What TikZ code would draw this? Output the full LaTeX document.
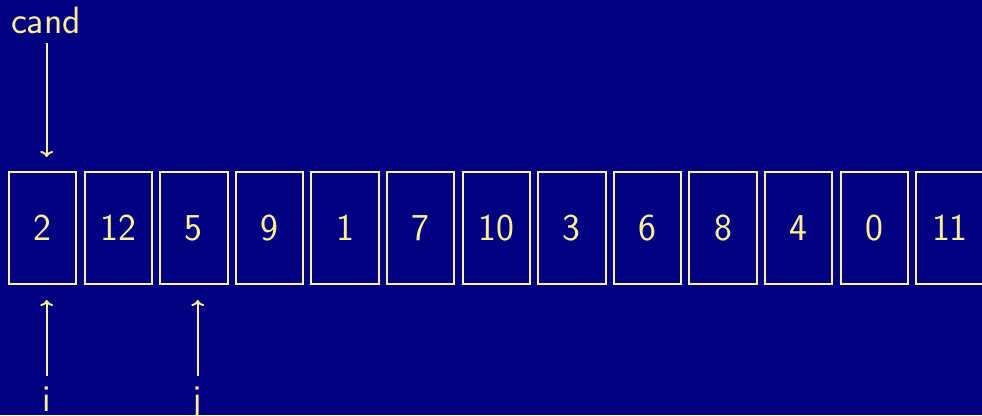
\documentclass[tikz,border=0pt]{standalone}
\usetikzlibrary{arrows.meta}
\definecolor{bgnavy}{RGB}{0,0,128}
\definecolor{paleyel}{RGB}{250,238,150}
\tikzset{
  cell/.style={draw=paleyel, line width=2pt, minimum width=67.5pt, minimum height=112.5pt, inner sep=0pt, text=paleyel, font=\sffamily\fontsize{38}{44}\selectfont},
  lbl/.style={text=paleyel, inner sep=0pt, font=\sffamily\fontsize{38}{44}\selectfont},
  ptr/.style={draw=paleyel, line width=1.9pt, -{To[length=6pt,width=13pt]}}
}
\begin{document}
\begin{tikzpicture}[x=1pt,y=-1pt]
\useasboundingbox (0,0) rectangle (982,415);
\clip (0,0) rectangle (982,415);
\fill[bgnavy] (0,0) rectangle (982,415);
\foreach \v [count=\k from 0] in {2,12,5,9,1,7,10,3,6,8,4,0,11}{
  \node[cell] (c\k) at ({42.7+75.6*\k},228) {\v};
}
\node[lbl, anchor=base] (cand) at (46,33) {cand};
\coordinate (candtail) at (46.7,43);
\coordinate (candtip) at (46.7,157);
\draw[ptr] (candtail) -- (candtip);
\node[lbl, anchor=base] (ilbl) at (46.5,411) {i};
\node[lbl, anchor=base] (jlbl) at (197,411) {j};
\coordinate (itail) at (46.7,376);
\coordinate (itip) at (46.7,300);
\coordinate (jtail) at (197.7,376);
\coordinate (jtip) at (197.7,300);
\draw[ptr] (itail) -- (itip);
\draw[ptr] (jtail) -- (jtip);
\end{tikzpicture}
\end{document}
